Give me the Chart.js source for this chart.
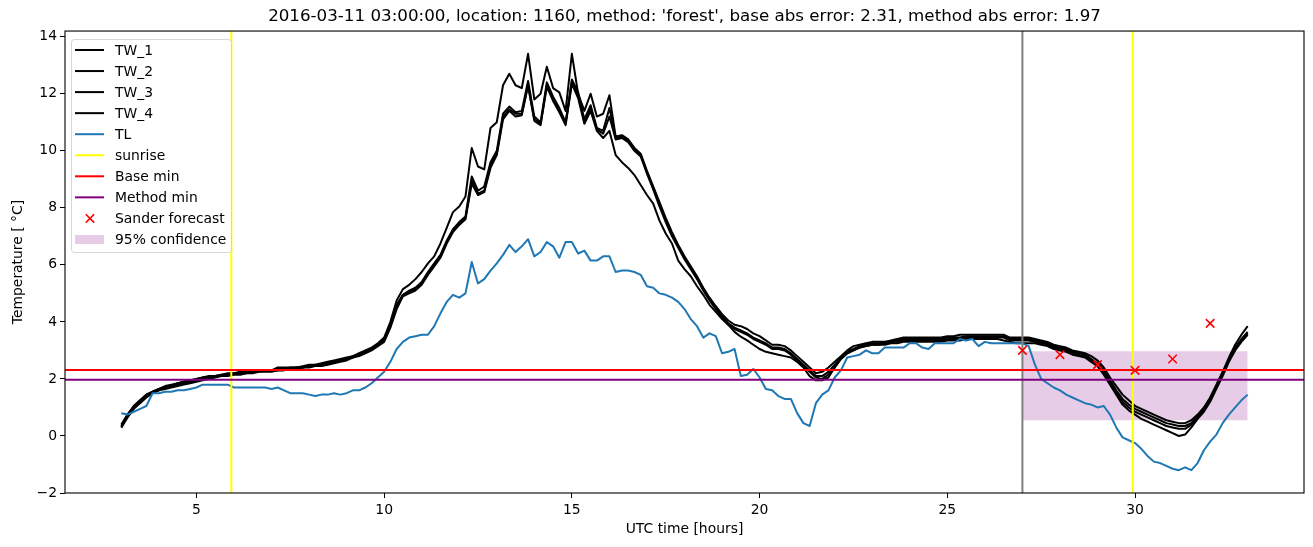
<!DOCTYPE html>
<html><head><meta charset="utf-8">
<script src="https://cdn.jsdelivr.net/npm/chart.js@4.4.1/dist/chart.umd.min.js"></script>
<style>html,body{margin:0;padding:0;background:#fff;}canvas{display:block;}</style>
</head><body>
<canvas id="c" width="1313" height="547"></canvas>
<script>
// ---- data (10-minute samples from 03:00 to 33:00 UTC hours) ----
const startHour = 3;
const samplesPerHour = 6;

const tw1 = [
 0.35,0.75,1.05,1.25,1.45,1.55, 1.65,1.75,1.80,1.85,1.90,1.95, 2.00,2.05,2.10,2.10,2.15,2.20,
 2.20,2.25,2.25,2.30,2.30,2.30, 2.30,2.40,2.40,2.40,2.40,2.45, 2.50,2.50,2.55,2.60,2.65,2.70,
 2.75,2.80,2.90,3.00,3.10,3.25, 3.45,4.00,4.75,5.15,5.30,5.50, 5.75,6.05,6.30,6.75,7.30,7.85,
 8.05,8.40,10.10,9.45,9.35,10.80, 11.00,12.30,12.70,12.30,12.20,13.40, 11.80,12.00,12.95,12.20,12.05,11.40,
 13.40,12.00,11.40,12.00,11.20,11.30, 11.95,10.50,10.55,10.40,10.10,9.90, 9.30,8.75,8.20,7.65,7.15,6.70,
 6.30,5.95,5.60,5.20,4.85,4.55, 4.27,4.05,3.90,3.85,3.75,3.60, 3.50,3.35,3.20,3.20,3.15,3.00,
 2.80,2.60,2.40,2.20,2.25,2.40, 2.60,2.80,3.00,3.15,3.20,3.25, 3.30,3.30,3.30,3.35,3.40,3.45,
 3.45,3.45,3.45,3.45,3.45,3.45, 3.50,3.50,3.55,3.55,3.55,3.55, 3.55,3.55,3.55,3.55,3.45,3.45,
 3.45,3.45,3.40,3.35,3.30,3.20, 3.15,3.10,3.00,2.95,2.90,2.80, 2.65,2.40,2.05,1.75,1.45,1.25,
 1.05,0.95,0.85,0.75,0.65,0.55, 0.50,0.45,0.45,0.55,0.75,1.00, 1.35,1.80,2.25,2.75,3.20,3.55,
 3.85
];
const tw2 = [
 0.30,0.70,1.00,1.20,1.40,1.50, 1.60,1.70,1.75,1.80,1.85,1.90, 1.95,2.00,2.05,2.10,2.10,2.15,
 2.20,2.20,2.20,2.25,2.25,2.30, 2.30,2.30,2.35,2.35,2.40,2.40, 2.45,2.45,2.50,2.55,2.60,2.65,
 2.70,2.75,2.85,2.95,3.05,3.20, 3.35,3.85,4.55,4.95,5.10,5.20, 5.40,5.75,6.05,6.35,6.85,7.25,
 7.50,7.70,9.10,8.60,8.75,9.60, 10.00,11.30,11.55,11.35,11.40,12.45, 11.20,11.00,12.40,11.90,11.50,11.00,
 12.50,12.05,11.10,11.60,10.80,10.70, 11.50,10.45,10.50,10.35,10.05,9.85, 9.25,8.70,8.15,7.55,7.05,6.65,
 6.25,5.90,5.55,5.15,4.80,4.50, 4.20,3.95,3.80,3.70,3.60,3.45, 3.35,3.25,3.10,3.10,3.05,2.90,
 2.70,2.50,2.30,2.10,2.10,2.25, 2.50,2.75,2.95,3.05,3.15,3.20, 3.25,3.25,3.30,3.30,3.35,3.40,
 3.40,3.40,3.40,3.40,3.40,3.40, 3.45,3.45,3.45,3.50,3.50,3.50, 3.50,3.50,3.50,3.50,3.40,3.40,
 3.40,3.40,3.35,3.30,3.25,3.15, 3.10,3.05,2.95,2.90,2.85,2.70, 2.55,2.30,1.95,1.60,1.30,1.10,
 0.95,0.85,0.75,0.65,0.55,0.45, 0.40,0.35,0.35,0.45,0.70,0.95, 1.30,1.75,2.20,2.70,3.10,3.40,
 3.65
];
const tw3 = [
 0.40,0.75,1.05,1.25,1.45,1.55, 1.65,1.70,1.75,1.85,1.90,1.95, 2.00,2.05,2.05,2.10,2.15,2.15,
 2.20,2.20,2.25,2.25,2.30,2.30, 2.30,2.35,2.35,2.40,2.40,2.40, 2.45,2.50,2.50,2.55,2.60,2.65,
 2.70,2.80,2.85,2.95,3.05,3.20, 3.40,3.90,4.60,4.95,5.05,5.15, 5.35,5.70,6.00,6.30,6.80,7.20,
 7.45,7.65,8.95,8.50,8.60,9.50, 9.90,11.20,11.45,11.30,11.30,12.30, 11.10,10.95,12.30,11.80,11.40,10.95,
 12.40,11.95,11.00,11.50,10.75,10.60, 11.20,10.40,10.45,10.30,10.00,9.80, 9.20,8.65,8.05,7.50,7.00,6.60,
 6.20,5.85,5.50,5.10,4.75,4.45, 4.15,3.90,3.75,3.65,3.55,3.40, 3.30,3.20,3.05,3.05,3.00,2.85,
 2.65,2.45,2.25,2.05,2.00,2.15, 2.40,2.70,2.90,3.00,3.10,3.15, 3.20,3.20,3.25,3.30,3.30,3.35,
 3.35,3.35,3.35,3.35,3.35,3.35, 3.40,3.40,3.40,3.45,3.45,3.45, 3.45,3.45,3.45,3.45,3.35,3.35,
 3.35,3.35,3.30,3.25,3.20,3.10, 3.05,3.00,2.90,2.85,2.80,2.65, 2.50,2.20,1.85,1.50,1.20,1.00,
 0.85,0.75,0.65,0.55,0.45,0.35, 0.30,0.25,0.25,0.40,0.65,0.90, 1.25,1.70,2.15,2.65,3.05,3.35,
 3.60
];
const tw4 = [
 0.30,0.65,0.95,1.15,1.35,1.50, 1.60,1.65,1.70,1.75,1.80,1.85, 1.90,1.95,2.00,2.05,2.10,2.10,
 2.15,2.15,2.20,2.20,2.25,2.25, 2.25,2.30,2.30,2.35,2.35,2.40, 2.40,2.45,2.45,2.50,2.55,2.60,
 2.65,2.75,2.80,2.90,3.00,3.15, 3.30,3.80,4.45,4.90,5.00,5.10, 5.30,5.65,5.95,6.25,6.75,7.15,
 7.40,7.60,8.85,8.45,8.55,9.40, 9.85,11.10,11.40,11.20,11.25,12.30, 11.05,10.90,12.25,11.75,11.35,10.90,
 12.35,11.85,10.95,11.40,10.70,10.45, 10.70,9.85,9.60,9.40,9.15,8.80, 8.45,8.15,7.55,7.10,6.75,6.15,
 5.85,5.60,5.25,4.95,4.60,4.35, 4.10,3.90,3.65,3.48,3.35,3.20, 3.05,2.95,2.90,2.85,2.80,2.75,
 2.60,2.40,2.10,1.95,1.95,2.05, 2.40,2.70,2.90,3.00,3.10,3.15, 3.20,3.20,3.20,3.25,3.25,3.30,
 3.30,3.30,3.30,3.30,3.30,3.30, 3.35,3.35,3.35,3.40,3.40,3.40, 3.40,3.40,3.40,3.35,3.30,3.25,
 3.25,3.25,3.25,3.20,3.15,3.05, 3.00,2.95,2.85,2.80,2.75,2.60, 2.45,2.15,1.80,1.45,1.10,0.90,
 0.75,0.60,0.50,0.40,0.30,0.20, 0.10,0.00,0.05,0.30,0.60,0.85, 1.20,1.65,2.10,2.60,3.00,3.30,
 3.55
];
const tl = [
 0.80,0.75,0.85,0.95,1.05,1.50, 1.50,1.55,1.55,1.60,1.60,1.65, 1.70,1.80,1.80,1.80,1.80,1.80,
 1.70,1.70,1.70,1.70,1.70,1.70, 1.65,1.70,1.60,1.50,1.50,1.50, 1.45,1.40,1.45,1.45,1.50,1.45,
 1.50,1.60,1.60,1.70,1.85,2.05, 2.25,2.60,3.05,3.30,3.45,3.50, 3.55,3.55,3.85,4.30,4.70,4.95,
 4.85,5.00,6.10,5.35,5.50,5.80, 6.05,6.35,6.70,6.45,6.65,6.90, 6.30,6.45,6.80,6.65,6.25,6.80,
 6.80,6.40,6.50,6.15,6.15,6.30, 6.30,5.75,5.80,5.80,5.75,5.65, 5.25,5.20,5.00,4.95,4.85,4.70,
 4.45,4.10,3.85,3.45,3.60,3.50, 2.90,2.95,3.05,2.10,2.15,2.35, 2.05,1.65,1.60,1.40,1.30,1.30,
 0.80,0.45,0.35,1.15,1.45,1.60, 2.05,2.30,2.75,2.80,2.85,3.00, 2.90,2.90,3.10,3.10,3.10,3.10,
 3.25,3.25,3.10,3.05,3.25,3.25, 3.25,3.25,3.40,3.35,3.40,3.15, 3.30,3.25,3.25,3.25,3.25,3.25,
 3.25,3.15,2.50,2.00,1.85,1.70, 1.60,1.45,1.35,1.25,1.15,1.10, 1.00,1.05,0.75,0.30,-0.05,-0.15,
 -0.25,-0.45,-0.70,-0.90,-0.95,-1.05, -1.15,-1.20,-1.10,-1.20,-0.95,-0.50, -0.20,0.05,0.45,0.75,1.00,1.25,
 1.45
];
const sanderHours = [27, 28, 29, 30, 31, 32];
const sanderTemps = [3.0, 2.85, 2.5, 2.3, 2.7, 3.95];
const confHours = [27, 33];
const confLow = [0.55, 0.55];
const confHigh = [2.97, 2.97];
const sunriseHours = [5.93, 29.94];
const forecastHour = 27;
const baseMin = 2.31;
const methodMin = 1.97;
const xTicks = [5, 10, 15, 20, 25, 30];
const yTicks = [-2, 0, 2, 4, 6, 8, 10, 12, 14];
const X_MIN = 1.5, X_MAX = 34.5, Y_MIN = -2.0, Y_MAX = 14.2;
const titleText = "2016-03-11 03:00:00, location: 1160, method: 'forest', base abs error: 2.31, method abs error: 1.97";

// ---- build ----
const hours = tw1.map((_, i) => startHour + i / samplesPerHour);
const series = ys => ys.map((y, i) => ({x: hours[i], y}));
const pairs = (xs, ys) => xs.map((x, i) => ({x, y: ys[i]}));

Chart.defaults.font.family = "'DejaVu Sans', sans-serif";
Chart.defaults.font.size = 13.9;
Chart.defaults.color = '#000';

const lineBase = {pointRadius: 0, tension: 0, fill: false, borderWidth: 2, borderJoinStyle: 'round'};

const datasets = [
  {label: 'Sander forecast', legendRank: 8, legendKind: 'marker', data: pairs(sanderHours, sanderTemps),
   showLine: false, pointStyle: 'crossRot', pointRadius: 6, pointHoverRadius: 6,
   borderColor: '#ff0000', backgroundColor: '#ff0000', borderWidth: 1.6},
  {label: 'Method min', legendRank: 7, ...lineBase, borderColor: '#800080',
   data: pairs([X_MIN, X_MAX], [methodMin, methodMin])},
  {label: 'Base min', legendRank: 6, ...lineBase, borderColor: '#ff0000',
   data: pairs([X_MIN, X_MAX], [baseMin, baseMin])},
  {label: 'sunrise', legendRank: 5, ...lineBase, borderColor: '#ffff00',
   data: pairs([sunriseHours[0], sunriseHours[0]], [Y_MIN, Y_MAX])},
  {label: 'sunrise_2', ...lineBase, borderColor: '#ffff00',
   data: pairs([sunriseHours[1], sunriseHours[1]], [Y_MIN, Y_MAX])},
  {label: 'forecast', ...lineBase, borderColor: '#808080',
   data: pairs([forecastHour, forecastHour], [Y_MIN, Y_MAX])},
  {label: 'TL', legendRank: 4, ...lineBase, borderColor: '#1f77b4', data: series(tl)},
  {label: 'TW_4', legendRank: 3, ...lineBase, borderColor: '#000', data: series(tw4)},
  {label: 'TW_3', legendRank: 2, ...lineBase, borderColor: '#000', data: series(tw3)},
  {label: 'TW_2', legendRank: 1, ...lineBase, borderColor: '#000', data: series(tw2)},
  {label: 'TW_1', legendRank: 0, ...lineBase, borderColor: '#000', data: series(tw1)},
  {label: '95% confidence', legendRank: 9, legendKind: 'patch', pointRadius: 0, tension: 0,
   borderWidth: 0, borderColor: 'rgba(0,0,0,0)', backgroundColor: 'rgba(128,0,128,0.2)',
   fill: '+1', data: pairs(confHours, confHigh)},
  {label: 'conf_low', pointRadius: 0, tension: 0, borderWidth: 0, borderColor: 'rgba(0,0,0,0)',
   fill: false, data: pairs(confHours, confLow)}
];

const frame = {
  id: 'frame',
  afterDatasetsDraw(chart) {
    const {ctx, chartArea: a} = chart;
    ctx.save();
    ctx.strokeStyle = '#000';
    ctx.lineWidth = 1.1;
    ctx.strokeRect(a.left, a.top, a.right - a.left, a.bottom - a.top);
    ctx.restore();
  }
};

const mplLegend = {
  id: 'mplLegend',
  afterDraw(chart) {
    const {ctx} = chart;
    const items = chart.data.datasets.filter(d => d.legendRank !== undefined)
      .sort((a, b) => a.legendRank - b.legendRank);
    const bx = 71.5, by = 39.5, bw = 160, bh = 213, r = 3;
    ctx.save();
    ctx.beginPath();
    ctx.moveTo(bx + r, by);
    ctx.arcTo(bx + bw, by, bx + bw, by + bh, r);
    ctx.arcTo(bx + bw, by + bh, bx, by + bh, r);
    ctx.arcTo(bx, by + bh, bx, by, r);
    ctx.arcTo(bx, by, bx + bw, by, r);
    ctx.closePath();
    ctx.fillStyle = 'rgba(255,255,255,0.8)';
    ctx.fill();
    ctx.strokeStyle = 'rgba(204,204,204,0.8)';
    ctx.lineWidth = 1;
    ctx.stroke();
    ctx.font = "13.9px 'DejaVu Sans', sans-serif";
    ctx.textBaseline = 'middle';
    ctx.textAlign = 'left';
    items.forEach((d, i) => {
      const y = 50 + i * 21.05;
      if (d.legendKind === 'marker') {
        ctx.strokeStyle = d.borderColor; ctx.lineWidth = 1.6;
        ctx.beginPath();
        ctx.moveTo(90 - 4.2, y - 4.2); ctx.lineTo(90 + 4.2, y + 4.2);
        ctx.moveTo(90 + 4.2, y - 4.2); ctx.lineTo(90 - 4.2, y + 4.2);
        ctx.stroke();
      } else if (d.legendKind === 'patch') {
        ctx.fillStyle = d.backgroundColor;
        ctx.fillRect(75, y - 4.5, 29, 9);
      } else {
        ctx.strokeStyle = d.borderColor; ctx.lineWidth = 2;
        ctx.beginPath(); ctx.moveTo(75, y); ctx.lineTo(104, y); ctx.stroke();
      }
      ctx.fillStyle = '#000';
      ctx.fillText(d.label, 115, y + 1);
    });
    ctx.restore();
  }
};

new Chart(document.getElementById('c'), {
  type: 'line',
  data: {datasets},
  options: {
    responsive: false,
    devicePixelRatio: 1,
    animation: false,
    events: [],
    layout: {padding: {left: 0, right: 9, top: 0, bottom: 0}},
    plugins: {
      legend: {display: false},
      tooltip: {enabled: false},
      title: {display: true, text: titleText, fullSize: false,
        font: {size: 16.7, weight: 'normal'}, color: '#000', padding: {top: 7, bottom: 4}}
    },
    scales: {
      x: {
        type: 'linear', min: X_MIN, max: X_MAX,
        afterBuildTicks: s => { s.ticks = xTicks.map(v => ({value: v})); },
        afterFit: s => { s.height = 54; },
        grid: {display: true, drawOnChartArea: false, drawTicks: true, tickLength: 5, color: '#000', lineWidth: 1},
        border: {display: false},
        ticks: {padding: 4, maxRotation: 0, color: '#000', font: {size: 13.9}},
        title: {display: true, text: 'UTC time [hours]', color: '#000', font: {size: 13.9}, padding: {top: 0, bottom: 9.7}}
      },
      y: {
        type: 'linear', min: Y_MIN, max: Y_MAX,
        afterBuildTicks: s => { s.ticks = yTicks.map(v => ({value: v})); },
        afterFit: s => { s.width = 65; },
        grid: {display: true, drawOnChartArea: false, drawTicks: true, tickLength: 5, color: '#000', lineWidth: 1},
        border: {display: false},
        ticks: {padding: 3, color: '#000', font: {size: 13.9}, callback: v => (v < 0 ? '\u2212' + Math.abs(v) : String(v))},
        title: {display: true, text: 'Temperature [ \u00b0C]', color: '#000', font: {size: 13.9}, padding: {top: 9.7, bottom: 0}}
      }
    }
  },
  plugins: [frame, mplLegend]
});
</script>
</body></html>
